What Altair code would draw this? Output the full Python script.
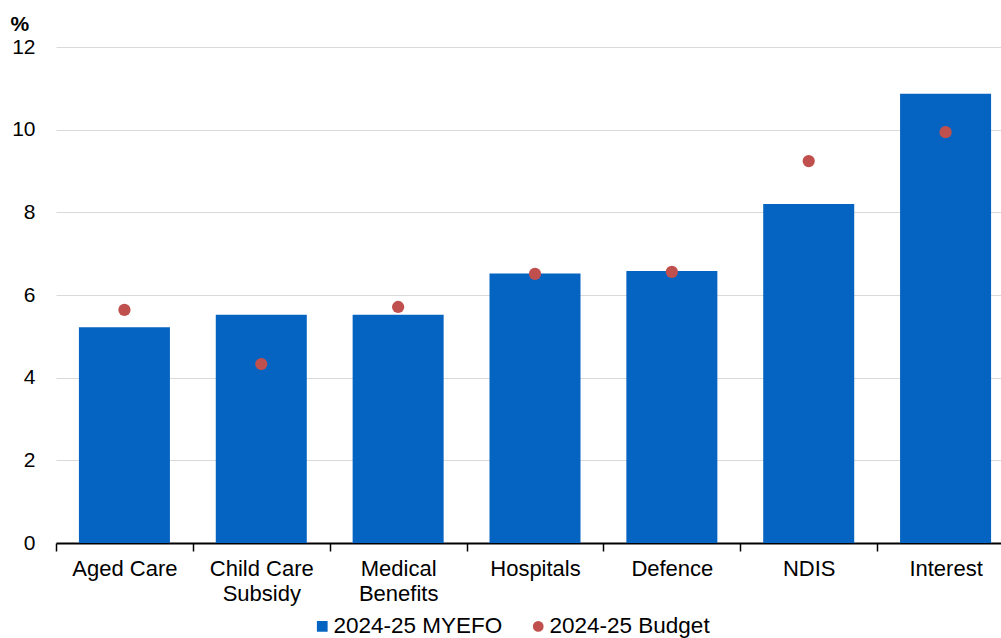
import altair as alt
import pandas as pd

categories = ["Aged Care", "Child Care Subsidy", "Medical Benefits",
              "Hospitals", "Defence", "NDIS", "Interest"]
myefo = [5.22, 5.52, 5.52, 6.52, 6.58, 8.20, 10.87]
budget = [5.64, 4.33, 5.71, 6.51, 6.56, 9.24, 9.94]
series_names = ["2024-25 MYEFO", "2024-25 Budget"]
series_colors = ["#0563C1", "#C0504D"]
series_shapes = ["square", "circle"]

bars = pd.DataFrame({"category": categories, "value": myefo, "series": series_names[0]})
dots = pd.DataFrame({"category": categories, "value": budget, "series": series_names[1]})

FONT = "Liberation Sans"
STEP = 958 / 7  # width of one category band in pixels

label_expr = ("datum.value == 'Child Care Subsidy' ? ['Child Care', 'Subsidy'] : "
              "datum.value == 'Medical Benefits' ? ['Medical', 'Benefits'] : datum.value")

x_enc = alt.X(
    "category:N",
    sort=categories,
    scale=alt.Scale(range=[0, 958], paddingInner=0.335, paddingOuter=0.1675),
    axis=alt.Axis(
        title=None, labelAngle=0, labelExpr=label_expr, labelFont=FONT,
        labelFontSize=22, labelColor="#000000", labelLineHeight=25,
        labelPadding=7, labelBaseline="top",
        domainColor="#000000", domainWidth=2, tickColor="#000000",
        tickWidth=1.5, tickSize=8, tickOffset=-STEP / 2, labelOffset=STEP / 2,
        grid=False,
    ),
)
y_enc = alt.Y(
    "value:Q",
    scale=alt.Scale(domain=[0, 12], nice=False),
    axis=alt.Axis(
        values=[0, 2, 4, 6, 8, 10, 12], title="%", titleAngle=0,
        titleX=-46, titleY=-17, titleAlign="left", titleBaseline="alphabetic",
        titleFont=FONT, titleFontSize=21, titleFontWeight="bold", titleColor="#000000",
        labelFont=FONT, labelFontSize=21, labelColor="#000000", labelPadding=21,
        domain=False, ticks=False, gridColor="#D9D9D9", gridWidth=1,
    ),
)

legend = alt.Legend(
    title=None, orient="none", direction="horizontal", legendX=255, legendY=568,
    labelFont=FONT, labelFontSize=22.5, labelColor="#000000", labelOffset=0,
    labelLimit=400, columnPadding=24, symbolSize=115, symbolStrokeWidth=0,
)

color_enc = alt.Color(
    "series:N",
    scale=alt.Scale(domain=series_names, range=series_colors),
    legend=legend,
)
shape_enc = alt.Shape(
    "series:N",
    scale=alt.Scale(domain=series_names, range=series_shapes),
    legend=legend,
)

bar_layer = alt.Chart(bars).mark_bar(stroke=None).encode(
    x=x_enc, y=y_enc, color=color_enc,
)
dot_layer = alt.Chart(dots).mark_point(filled=True, size=150, opacity=1).encode(
    x=x_enc, y=y_enc, color=color_enc, shape=shape_enc,
)

chart = (
    alt.layer(bar_layer, dot_layer)
    .properties(
        width=945, height=496,
        autosize=alt.AutoSizeParams(type="none"),
        padding={"left": 56, "top": 47, "right": 0, "bottom": 95},
        background="#FFFFFF",
    )
    .configure_view(stroke=None)
)

chart.save("out.html", embed_options={"renderer": "svg", "actions": False})
